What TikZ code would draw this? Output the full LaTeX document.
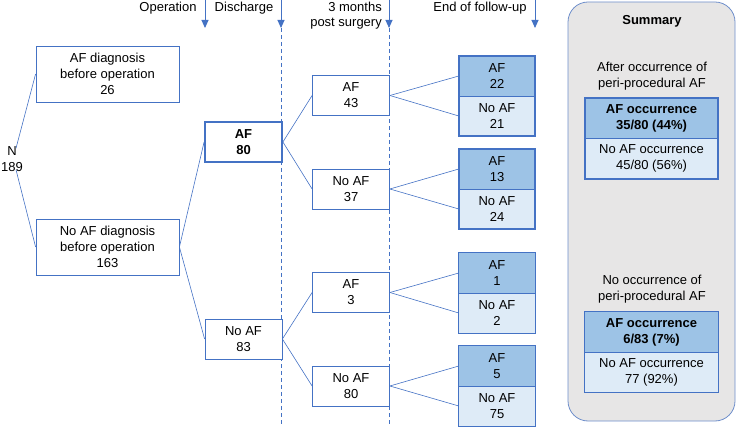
\documentclass[tikz,border=0pt]{standalone}
\usepackage{fontspec}
\setmainfont{Liberation Sans}
\usetikzlibrary{arrows.meta}
\definecolor{bl}{HTML}{4472C4}
\definecolor{dk}{HTML}{9DC3E6}
\definecolor{lt}{HTML}{DEEBF7}
\definecolor{pnl}{HTML}{E7E6E6}
\definecolor{pnb}{HTML}{6F8FCB}
\tikzset{
  txt/.style={font=\fontsize{13}{16}\selectfont, align=center, inner sep=0pt},
  box/.style={txt, draw=bl, line width=0.8pt, fill=white, minimum width=#1, minimum height=40pt},
  box/.default=77pt,
  tbox/.style={box=#1, line width=1.8pt},
  tbox/.default=77pt,
  dkbox/.style={txt, fill=dk, minimum width=#1, minimum height=40pt},
  dkbox/.default=76pt,
  ltbox/.style={txt, fill=lt, minimum width=#1, minimum height=40pt},
  ltbox/.default=76pt,
  conn/.style={draw=bl, line width=0.6pt},
  tick/.style={draw=bl, line width=0.9pt, -{Triangle[width=7pt,length=8pt]}},
  dline/.style={draw=bl, line width=0.7pt, dash pattern=on 4pt off 3pt},
}
\begin{document}
\begin{tikzpicture}[x=1pt,y=-1pt]
\useasboundingbox (0,0) rectangle (736,427);
% summary panel
\draw[fill=pnl, draw=pnb, line width=0.8pt, rounded corners=20pt] (568,2) rectangle (735,421);
% headers
\node[txt] (hop) at (168,8) {Operation};
\node[txt] (hdis) at (244,8) {Discharge};
\node[txt, anchor=east] (h3a) at (382,7) {3 months};
\node[txt, anchor=east] (h3b) at (382,24) {post surgery};
\node[txt] (hend) at (480,8) {End of follow-up};
% timeline ticks
\coordinate (t1a) at (205,0); \coordinate (t1b) at (205,28);
\coordinate (t2a) at (281,0); \coordinate (t2b) at (281,28); \coordinate (t2c) at (281,427);
\coordinate (t3a) at (389,0); \coordinate (t3b) at (389,28); \coordinate (t3c) at (389,427);
\coordinate (t4a) at (535,0); \coordinate (t4b) at (535,28);
\draw[tick] (t1a) -- (t1b);
\draw[tick] (t2a) -- (t2b);
\draw[tick] (t3a) -- (t3b);
\draw[tick] (t4a) -- (t4b);
\draw[dline] (t2b) -- (t2c);
\draw[dline] (t3b) -- (t3c);
% tree
\node[txt] (n) at (12,159) {N\\189};
\node[box=143pt, minimum height=56pt] (b1) at (107.5,74) {AF diagnosis\\before operation\\26};
\node[box=143pt, minimum height=56pt] (b2) at (107.5,247) {No AF diagnosis\\before operation\\163};
\node[tbox] (af80) at (243.5,142) {\textbf{AF}\\\textbf{80}};
\node[box] (naf83) at (243.5,339) {No AF\\83};
\node[box] (af43) at (351,95.5) {AF\\43};
\node[box] (naf37) at (351,189) {No AF\\37};
\node[box] (af3) at (351,292.5) {AF\\3};
\node[box] (naf80) at (351,386) {No AF\\80};
% end of follow-up
\node[dkbox] (e1) at (497,76) {AF\\22};
\node[ltbox] (e2) at (497,116) {No AF\\21};
\node[dkbox] (e3) at (497,169) {AF\\13};
\node[ltbox] (e4) at (497,209) {No AF\\24};
\node[dkbox] (e5) at (497,273) {AF\\1};
\node[ltbox] (e6) at (497,313) {No AF\\2};
\node[dkbox] (e7) at (497,366) {AF\\5};
\node[ltbox] (e8) at (497,406) {No AF\\75};
\draw[draw=bl, line width=1.8pt] (e1.north west) rectangle (e2.south east);
\draw[draw=bl, line width=1.8pt] (e3.north west) rectangle (e4.south east);
\draw[draw=bl, line width=0.8pt] (e5.north west) rectangle (e6.south east);
\draw[draw=bl, line width=0.8pt] (e7.north west) rectangle (e8.south east);
\draw[draw=bl, line width=0.4pt] (e1.south west) -- (e1.south east);
\draw[draw=bl, line width=0.4pt] (e3.south west) -- (e3.south east);
\draw[draw=bl, line width=0.4pt] (e5.south west) -- (e5.south east);
\draw[draw=bl, line width=0.4pt] (e7.south west) -- (e7.south east);
% connectors
\draw[conn] ([xshift=4pt,yshift=-2pt]n.north) -- (b1.west);
\draw[conn] ([xshift=4pt,yshift=2pt]n.south) -- (b2.west);
\draw[conn] (b2.east) -- (af80.west);
\draw[conn] (b2.east) -- (naf83.west);
\draw[conn] (af80.east) -- (af43.west);
\draw[conn] (af80.east) -- (naf37.west);
\draw[conn] (naf83.east) -- (af3.west);
\draw[conn] (naf83.east) -- (naf80.west);
\draw[conn] (af43.east) -- (e1.west);
\draw[conn] (af43.east) -- (e2.west);
\draw[conn] (naf37.east) -- (e3.west);
\draw[conn] (naf37.east) -- (e4.west);
\draw[conn] (af3.east) -- (e5.west);
\draw[conn] (af3.east) -- (e6.west);
\draw[conn] (naf80.east) -- (e7.west);
\draw[conn] (naf80.east) -- (e8.west);
% summary
\node[txt] (sumt) at (652,21) {\textbf{Summary}};
\node[txt] (s1t) at (652,76) {After occurrence of\\peri-procedural AF};
\node[dkbox=133pt] (s1a) at (651.5,118) {\textbf{AF occurrence}\\\textbf{35/80 (44\%)}};
\node[ltbox=133pt] (s1b) at (651.5,158.5) {No AF occurrence\\45/80 (56\%)};
\draw[draw=bl, line width=1.8pt] (s1a.north west) rectangle (s1b.south east);
\draw[draw=bl, line width=0.4pt] (s1a.south west) -- (s1a.south east);
\node[txt] (s2t) at (652,289) {No occurrence of\\peri-procedural AF};
\node[dkbox=133pt] (s2a) at (651.5,332) {\textbf{AF occurrence}\\\textbf{6/83 (7\%)}};
\node[ltbox=133pt] (s2b) at (651.5,372) {No AF occurrence\\77 (92\%)};
\draw[draw=bl, line width=0.8pt] (s2a.north west) rectangle (s2b.south east);
\draw[draw=bl, line width=0.4pt] (s2a.south west) -- (s2a.south east);
\end{tikzpicture}
\end{document}
